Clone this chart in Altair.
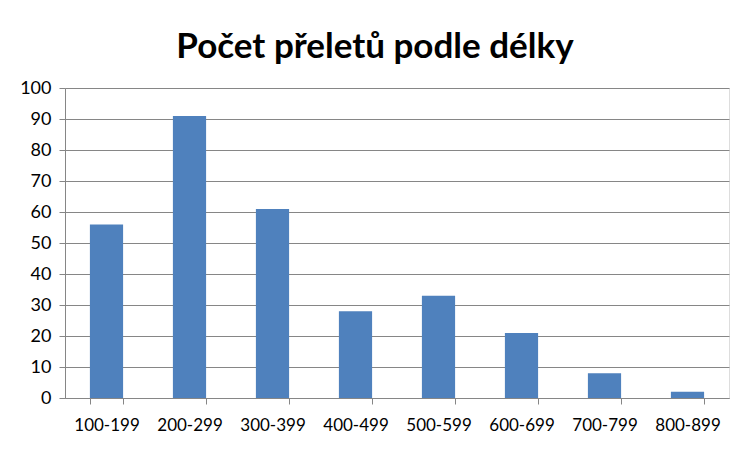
import altair as alt
import pandas as pd

categories = ["100-199", "200-299", "300-399", "400-499", "500-599", "600-699", "700-799", "800-899"]
values = [56, 91, 61, 28, 33, 21, 8, 2]
y_ticks = [0, 10, 20, 30, 40, 50, 60, 70, 80, 90, 100]

df = pd.DataFrame({"kat": categories, "pocet": values})

W, H = 664, 310
PL, PT = 57, 80

bars = alt.Chart(df).mark_bar(color="#4F81BD").encode(
    x=alt.X("kat:N", sort=categories, title=None,
            scale=alt.Scale(paddingInner=0.6, paddingOuter=0.3),
            axis=alt.Axis(labelAngle=0, tickBand="extent", labelFont="Lato", labelFontSize=17,
                          labelColor="#000000", domainColor="#868686", tickColor="#868686",
                          tickSize=6, labelPadding=13, grid=False)),
    y=alt.Y("pocet:Q", title=None,
            scale=alt.Scale(domain=[0, 100], nice=False),
            axis=alt.Axis(values=y_ticks, labelFont="Lato", labelFontSize=18, labelColor="#000000",
                          domainColor="#868686", tickColor="#868686", tickSize=6,
                          gridColor="#868686", gridWidth=1, labelPadding=8)),
)

chart = bars.properties(
    width=W, height=H,
    title=alt.TitleParams("Počet přeletů podle délky", font="Lato", fontSize=35, fontWeight="bold",
                          color="#000000", anchor="middle", offset=14, dx=-22),
    autosize=alt.AutoSizeParams(type="none"),
    padding={"left": PL, "top": PT, "right": 736 - PL - W, "bottom": 436 - PT - H},
).configure_view(stroke=None).configure(background="#ffffff")

chart.save("out.html", embed_options={"renderer": "svg", "actions": False})
